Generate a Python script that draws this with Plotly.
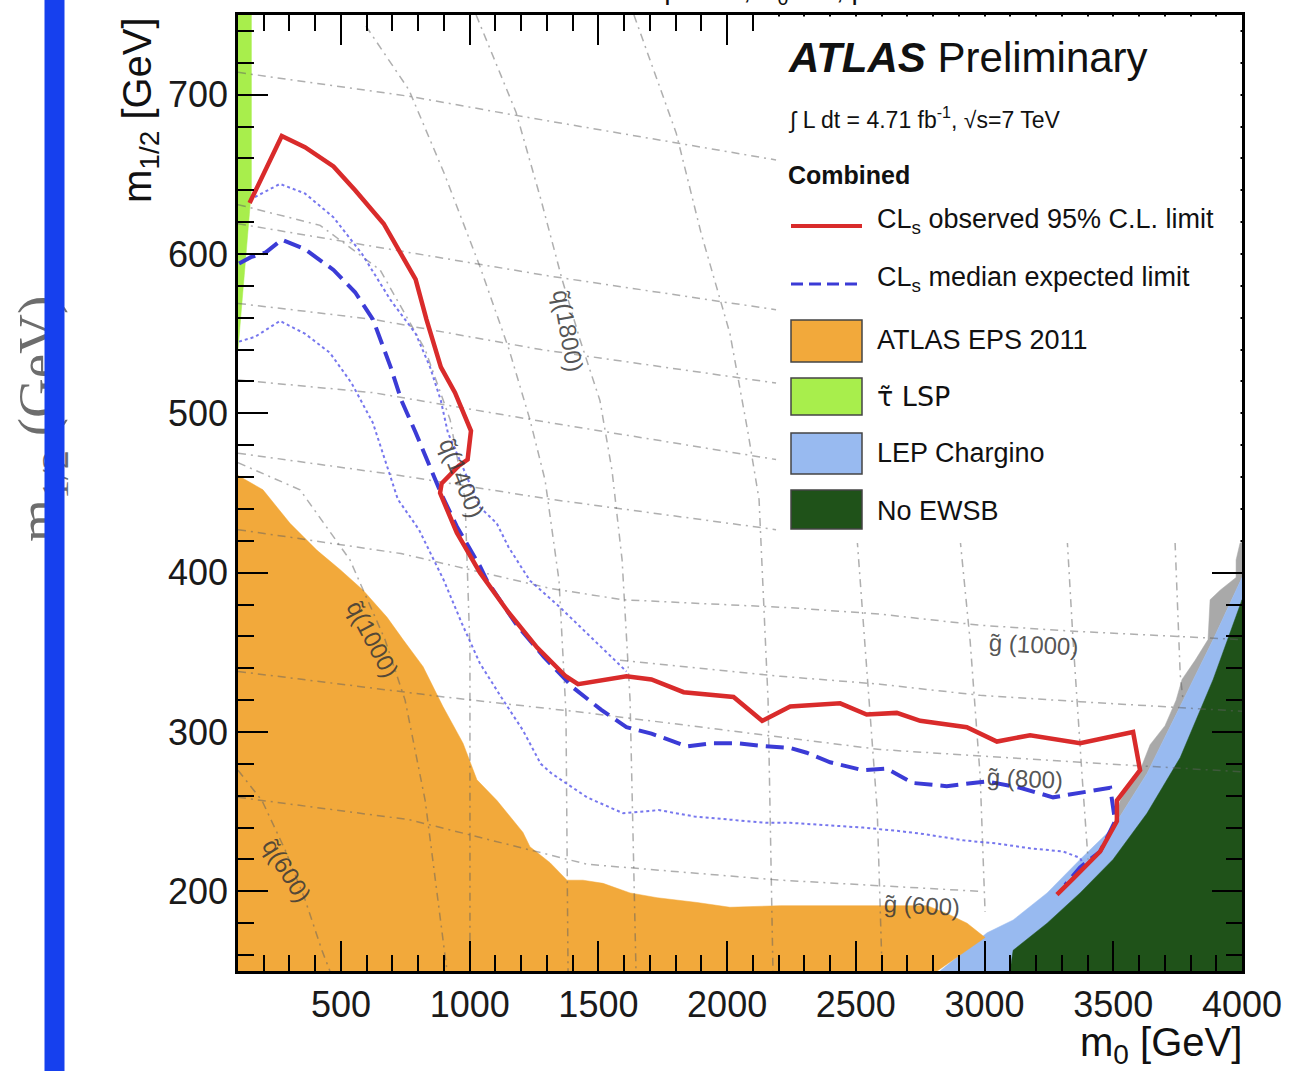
import plotly.graph_objects as go

# ---------------- data (GeV) ----------------
M0_RANGE = [100, 4000]
M12_RANGE = [150, 750]

# ATLAS EPS 2011 excluded region (upper edge, left to right)
eps_m0 = [100, 197, 302, 407, 496, 586, 679, 741, 819, 896, 974, 1028, 1106, 1207, 1234,
          1312, 1378, 1440, 1518, 1623, 1728, 1883, 2011, 2206, 2777, 2855, 2932, 3002, 2816]
eps_m12 = [461, 452, 431, 414, 402, 389, 372, 358, 341, 316, 293, 270, 257, 237, 228,
           218, 207, 207, 205, 199, 196, 193, 190, 191, 191, 186, 180, 171, 150]

# stau LSP region
lsp_m0 = [100, 152, 152, 138, 118, 100]
lsp_m12 = [750, 750, 640, 612, 575, 540]

# LEP chargino limit (upper edge)
lep_m0 = [2827, 3010, 3111, 3243, 3371, 3499, 3631, 3760, 3888, 4000]
lep_m12 = [150, 174, 182, 199, 220, 240, 274, 316, 358, 397]

# theoretically excluded steps just above the LEP band
grey_m0 = [3499, 3527, 3604, 3643, 3701, 3744, 3767, 3818, 3868, 3876, 3915, 3977, 3977, 3993, 4000]
grey_m12 = [240, 257, 276, 292, 304, 320, 333, 345, 358, 383, 389, 397, 408, 419, 419]

# no electroweak symmetry breaking (upper edge)
ewsb_m0 = [3099, 3111, 3243, 3371, 3499, 3631, 3760, 3888, 4000]
ewsb_m12 = [150, 163, 180, 199, 220, 249, 284, 333, 383]

# observed 95% CL limit
obs_m0 = [145, 270, 360, 471, 555, 666, 790, 832, 888, 943, 1005, 992, 957, 891, 885, 950,
          1040, 1151, 1262, 1373, 1421, 1609, 1706, 1831, 2025, 2136, 2245, 2439, 2542, 2659,
          2750, 2931, 3048, 3177, 3371, 3577, 3604, 3514, 3514, 3449, 3344, 3281]
obs_m12 = [632, 674, 667, 655, 640, 619, 584, 559, 529, 513, 489, 471, 467, 456, 450, 425,
           400, 375, 353, 335, 330, 335, 333, 325, 322, 307, 316, 318, 311, 312,
           307, 303, 294, 298, 293, 300, 276, 257, 244, 225, 208, 198]

# median expected limit
exp_m0 = [104, 150, 208, 270, 360, 471, 555, 624, 693, 735, 790, 846, 888, 950, 1040, 1067,
          1179, 1289, 1401, 1510, 1609, 1706, 1844, 1941, 2039, 2150, 2245, 2309, 2400, 2528,
          2620, 2722, 2853, 3009, 3138, 3266, 3371, 3488, 3499, 3507, 3449, 3371, 3313]
exp_m12 = [594, 598, 601, 609, 603, 590, 576, 559, 529, 508, 488, 467, 450, 429, 404, 395,
           368, 347, 328, 314, 303, 299, 291, 293, 293, 291, 290, 287, 281, 276,
           277, 268, 266, 269, 265, 259, 262, 265, 253, 244, 225, 215, 204]

# expected limit +/- 1 sigma
up_m0 = [145, 263, 360, 471, 582, 693, 790, 846, 888, 915, 1040, 1105, 1151, 1234, 1346,
         1456, 1567, 1609]
up_m12 = [634, 644, 638, 623, 600, 571, 550, 529, 508, 488, 441, 431, 416, 395, 379,
          362, 345, 338]
lo_m0 = [104, 166, 263, 360, 457, 541, 624, 679, 721, 803, 900, 970, 1040, 1122, 1207, 1276,
         1318, 1456, 1596, 1734, 1872, 2011, 2150, 2245, 2334, 2528, 2659, 2762, 2918, 3048,
         3177, 3305, 3371, 3383]
lo_m12 = [545, 548, 558, 550, 538, 519, 494, 467, 446, 427, 395, 368, 343, 322, 301, 280,
          274, 259, 249, 251, 247, 245, 243, 243, 242, 240, 238, 236, 232, 230,
          227, 225, 221, 217]

# gluino iso-mass contours (nearly horizontal)
gluino_m0 = [
    [100, 764, 1180, 1802, 2190],
    [100, 764, 1316, 2190],
    [100, 624, 1277, 2190],
    [100, 624, 1316, 2190],
    [100, 729, 1316, 2190],
    [100, 733, 1316, 1596, 2244, 2594, 2983, 3371, 4000],
    [1584, 2206, 2594, 2983, 3371, 4000],
    [100, 900, 1456, 2594, 3371, 4000],
    [100, 764, 1456, 2206, 2983],
]
gluino_m12 = [
    [714, 699, 687, 670, 659],
    [619, 601, 586, 565],
    [569, 559, 540, 519],
    [521, 513, 494, 471],
    [475, 461, 446, 427],
    [427, 412, 390, 383, 378, 374, 367, 363, 358],
    [345, 335, 330, 323, 319, 313],
    [338, 322, 312, 289, 281, 275],
    [259, 245, 217, 207, 200],
]

# squark iso-mass contours (bending down to nearly vertical)
squark_m0 = [
    [100, 193, 283, 360, 426, 457],
    [100, 341, 535, 671, 749, 827, 900, 912],
    [100, 419, 652, 827, 924, 982, 1001, 1001],
    [597, 764, 900, 1040, 1153, 1234, 1293, 1347, 1374, 1382],
    [1025, 1180, 1277, 1359, 1429, 1506, 1553, 1592, 1623, 1646],
    [1638, 1802, 1899, 2011, 2081, 2124, 2159, 2178],
    [2505, 2544, 2583, 2602],
    [2905, 2944, 2983, 3002],
    [3321, 3344, 3379, 3402],
    [3740, 3760, 3771],
]
squark_m12 = [
    [276, 257, 226, 195, 163, 150],
    [469, 452, 408, 358, 320, 257, 165, 150],
    [631, 618, 590, 540, 496, 446, 352, 150],
    [743, 703, 651, 592, 540, 496, 458, 395, 312, 150],
    [750, 689, 634, 584, 546, 508, 464, 408, 320, 150],
    [750, 676, 613, 550, 488, 446, 320, 150],
    [421, 336, 251, 150],
    [421, 357, 272, 187],
    [421, 357, 272, 220],
    [419, 336, 320],
]

# iso-mass labels: (text, m0, m1/2, angle)
mass_labels = [
    ("q̃(1800)", 1382, 552, 80),
    ("q̃(1400)", 970, 459, 68),
    ("q̃(1000)", 624, 358, 62),
    ("q̃(600)", 290, 213, 58),
    ("g̃ (1000)", 3189, 355, 3),
    ("g̃ (800)", 3158, 271, 3),
    ("g̃ (600)", 2757, 191, 3),
]

# ---------------- colours ----------------
C_EPS = "#F2A93B"
C_LSP = "#A8EE4C"
C_LEP = "#98BAF0"
C_EWSB = "#1F5219"
C_GREY = "#A9A9A9"
C_OBS = "#D92B2B"
C_EXP = "#3B3BD6"
C_SIG = "rgba(95,95,235,0.85)"
C_ISO = "rgba(95,95,95,0.5)"

W, H = 1313, 1071
ML, MR, MT, MB = 238, 71, 15, 100
PW, PH = W - ML - MR, H - MT - MB


def fx(px):
    return (px - ML) / PW


def fy(py):
    return (H - MB - py) / PH


fig = go.Figure()


def area(x, y, color):
    fig.add_trace(go.Scatter(x=x, y=y, mode="lines", fill="toself", fillcolor=color,
                             line=dict(color=color, width=0.5), hoverinfo="skip",
                             showlegend=False))


def curve(x, y, color, width, dash):
    fig.add_trace(go.Scatter(x=x, y=y, mode="lines",
                             line=dict(color=color, width=width, dash=dash),
                             hoverinfo="skip", showlegend=False))


lep_tail = [(m, v) for m, v in zip(lep_m0, lep_m12) if m >= 3499][::-1]
area(grey_m0 + [4000] + [m for m, _ in lep_tail],
     grey_m12 + [397] + [v for _, v in lep_tail], C_GREY)
area(lep_m0 + [4000], lep_m12 + [150], C_LEP)
area(ewsb_m0 + [4000], ewsb_m12 + [150], C_EWSB)
area([100] + eps_m0, [150] + eps_m12, C_EPS)
area(lsp_m0, lsp_m12, C_LSP)

for xs, ys in zip(gluino_m0 + squark_m0, gluino_m12 + squark_m12):
    curve(xs, ys, C_ISO, 1.5, "8px,5px,2px,5px")

curve(up_m0, up_m12, C_SIG, 2, "dot")
curve(lo_m0, lo_m12, C_SIG, 2, "dot")
curve(exp_m0, exp_m12, C_EXP, 4, "18px,8px")
curve(obs_m0, obs_m12, C_OBS, 4.5, "solid")

ann = []
for text, xm, ym, ang in mass_labels:
    ann.append(dict(x=xm, y=ym, xref="x", yref="y", text=text, showarrow=False,
                    textangle=ang, font=dict(family="Liberation Sans", size=24,
                                             color="rgba(55,55,55,0.85)")))

# ---------------- legend box ----------------
shapes = [dict(type="rect", xref="paper", yref="paper", x0=fx(777), x1=fx(1240.5),
               y0=fy(543), y1=fy(16.5), fillcolor="white", line=dict(width=0),
               layer="above")]
shapes.append(dict(type="line", xref="paper", yref="paper", x0=fx(791), x1=fx(862),
                   y0=fy(226), y1=fy(226), line=dict(color=C_OBS, width=4), layer="above"))
shapes.append(dict(type="line", xref="paper", yref="paper", x0=fx(791), x1=fx(862),
                   y0=fy(284), y1=fy(284), line=dict(color=C_EXP, width=3, dash="12px,6px"),
                   layer="above"))
for (t, b), col in zip([(320, 362), (378, 415), (433, 474), (490, 529)],
                       [C_EPS, C_LSP, C_LEP, C_EWSB]):
    shapes.append(dict(type="rect", xref="paper", yref="paper", x0=fx(791), x1=fx(862),
                       y0=fy(b), y1=fy(t), fillcolor=col,
                       line=dict(color="#444", width=1.5), layer="above"))

LF = "Liberation Sans"


def txt(px, py, s, size, anchor="left", color="#111", family=LF, **kw):
    ann.append(dict(x=fx(px), y=fy(py), xref="paper", yref="paper", text=s,
                    showarrow=False, xanchor=anchor, yanchor="middle",
                    font=dict(family=family, size=size, color=color), **kw))


txt(786, 58, "<b><i>ATLAS</i></b> Preliminary", 42)
txt(786, 118, "∫ L dt = 4.71 fb<sup>-1</sup>, √s=7 TeV", 23)
txt(786, 175, "<b>Combined</b>", 25)
txt(875, 221, "CL<sub>s</sub> observed 95% C.L. limit", 27)
txt(875, 279, "CL<sub>s</sub> median expected limit", 27)
txt(875, 340, "ATLAS EPS 2011", 27)
txt(875, 397, "τ̃ LSP", 27, family="DejaVu Sans")
txt(875, 453, "LEP Chargino", 27)
txt(875, 511, "No EWSB", 27)

# axis titles
txt(140, 110, "m<sub>1/2</sub> [GeV]", 40, anchor="center", textangle=-90)
txt(1244, 1045, "m<sub>0</sub> [GeV]", 40, anchor="right")

# title line above the frame
txt(641, -9, "MSUGRA/CMSSM: tan β = 10, A<sub>0</sub> = 0, μ > 0", 28, anchor="center")

# faint rotated label and blue stripe at the far left
txt(41, 419, "m<sub>1/2</sub> (GeV)", 55, anchor="center", textangle=-90,
    color="rgba(60,60,60,0.75)", family="Liberation Serif")
ann.append(dict(x=fx(54), y=fy(535.5), xref="paper", yref="paper", text=" ",
                showarrow=False, width=19, height=1075, bgcolor="#1640EE",
                borderpad=0, xanchor="center", yanchor="middle"))

axis_common = dict(showgrid=False, zeroline=False, showline=True, linecolor="black",
                   linewidth=2.5, mirror="ticks", ticks="inside", tickcolor="black",
                   tickwidth=2, ticklen=30,
                   tickfont=dict(family=LF, size=36, color="#1a1a1a"))

fig.update_layout(
    width=W, height=H, margin=dict(l=ML, r=MR, t=MT, b=MB),
    paper_bgcolor="white", plot_bgcolor="white",
    xaxis=dict(range=M0_RANGE, tick0=0, dtick=500,
               minor=dict(ticks="inside", dtick=100, ticklen=16, tickwidth=2,
                          tickcolor="black"), **axis_common),
    yaxis=dict(range=M12_RANGE, tick0=0, dtick=100,
               minor=dict(ticks="inside", dtick=20, ticklen=16, tickwidth=2,
                          tickcolor="black"), **axis_common),
    shapes=shapes, annotations=ann, showlegend=False,
)

fig.write_html("out.html")
